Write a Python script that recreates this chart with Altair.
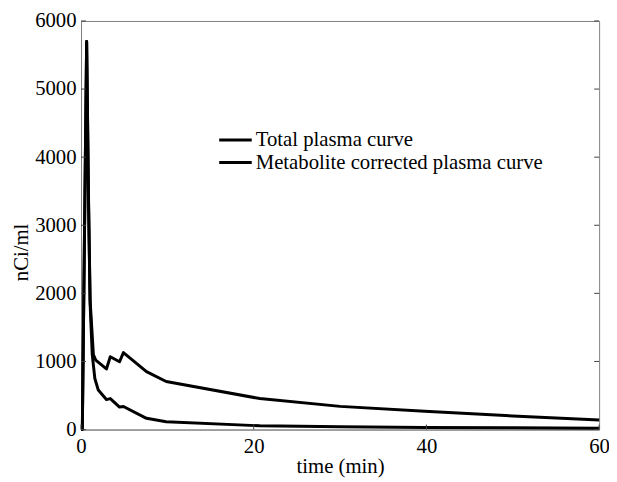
import altair as alt
import pandas as pd

# Total plasma curve
total_t = [0, 0.15, 0.65, 0.87, 1.05, 1.43, 1.7, 2.94, 3.39, 4.46, 4.91, 7.58, 9.86, 20.7, 30, 39.8, 50, 60]
total_v = [0, 0, 5700, 3400, 1900, 1100, 1020, 890, 1070, 995, 1130, 850, 705, 455, 340, 270, 200, 140]

# Metabolite corrected plasma curve
meta_t = [0, 0.15, 0.65, 0.87, 1.05, 1.3, 1.6, 2.0, 2.94, 3.39, 4.46, 4.91, 7.58, 9.86, 20.7, 30, 39.8, 50, 60]
meta_v = [0, 0, 5700, 3300, 1850, 1100, 750, 580, 440, 455, 330, 338, 165, 115, 55, 40, 30, 25, 20]

series_names = ["Total plasma curve", "Metabolite corrected plasma curve"]
x_ticks = [0, 20, 40, 60]
y_ticks = [0, 1000, 2000, 3000, 4000, 5000, 6000]

W, H = 525, 414
FONT = "Liberation Serif"

df = pd.concat([
    pd.DataFrame({"t": total_t, "v": total_v, "series": series_names[0], "order": range(len(total_t))}),
    pd.DataFrame({"t": meta_t, "v": meta_v, "series": series_names[1], "order": range(len(meta_t))}),
])

xscale = alt.Scale(domain=[0, 60], nice=False, zero=False)
yscale = alt.Scale(domain=[0, 6000], nice=False)

lines = alt.Chart(df).mark_line(strokeWidth=3, strokeJoin="round").encode(
    x=alt.X("t:Q", scale=xscale,
            axis=alt.Axis(values=x_ticks, format="d", title="time (min)", ticks=False, grid=False,
                          labelPadding=6, titlePadding=0, labelFlush=False)),
    y=alt.Y("v:Q", scale=yscale,
            axis=alt.Axis(values=y_ticks, format="d", title="nCi/ml", ticks=False, grid=False,
                          labelPadding=5, titlePadding=3, labelFlush=False, titleY=234)),
    color=alt.Color("series:N", sort=series_names,
                    scale=alt.Scale(domain=series_names, range=["#000000", "#000000"]),
                    legend=alt.Legend(title=None, orient="none", legendX=146, legendY=110,
                                      symbolType="M-2,0H2", symbolSize=272, symbolStrokeWidth=3,
                                      labelOffset=10, rowPadding=1, padding=0,
                                      labelFontSize=21, labelFont=FONT, labelColor="black",
                                      labelLimit=400)),
    detail="series:N",
    order="order:Q",
)

ytick_df = pd.DataFrame({"v": y_ticks})
xtick_df = pd.DataFrame({"t": x_ticks})

yticks_left = alt.Chart(ytick_df).mark_rule(color="#404040", strokeWidth=1).encode(
    y=alt.Y("v:Q", scale=yscale), x=alt.value(0), x2=alt.value(5))
yticks_right = alt.Chart(ytick_df).mark_rule(color="#404040", strokeWidth=1).encode(
    y=alt.Y("v:Q", scale=yscale), x=alt.value(W), x2=alt.value(W - 5))
xticks_bottom = alt.Chart(xtick_df).mark_rule(color="#404040", strokeWidth=1).encode(
    x=alt.X("t:Q", scale=xscale), y=alt.value(H), y2=alt.value(H - 5))

chart = alt.layer(lines, yticks_left, yticks_right, xticks_bottom).properties(
    width=W, height=H,
    autosize=alt.AutoSizeParams(type="none"),
    padding={"left": 74, "top": 10, "right": 10, "bottom": 50},
    background="white",
).configure_view(stroke="#808080", strokeWidth=1).configure_axis(
    domainColor="#808080", domainWidth=1,
    labelFont=FONT, labelFontSize=21, labelColor="black",
    titleFont=FONT, titleFontSize=21, titleFontWeight="normal", titleColor="black",
)

chart.save("out.html", embed_options={"renderer": "svg", "actions": False})
